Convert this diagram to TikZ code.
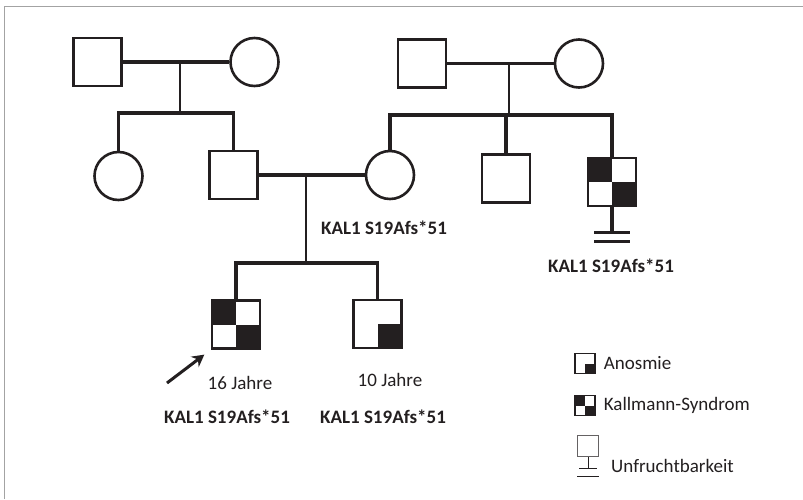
\documentclass[tikz,border=0pt]{standalone}
\usepackage{fontspec}
\setmainfont{Carlito}
\usepackage{tikz}
\usetikzlibrary{arrows.meta, positioning}
\definecolor{pedblack}{HTML}{231F20}
\definecolor{framegray}{HTML}{A3A3A3}

\begin{document}
\begin{tikzpicture}[
    x=1pt, y=-1pt,
    every node/.style={font=\fontsize{19}{22}\selectfont, text=pedblack},
    male/.style={rectangle, draw=pedblack, fill=white, line width=2.6pt, minimum size=48pt, inner sep=0pt},
    female/.style={circle, draw=pedblack, fill=white, line width=2.6pt, minimum size=48pt, inner sep=0pt},
    kallmann/.style={path picture={
        \fill[pedblack] (path picture bounding box.north west) rectangle (path picture bounding box.center);
        \fill[pedblack] (path picture bounding box.center) rectangle (path picture bounding box.south east);}},
    anosmia/.style={path picture={
        \fill[pedblack] (path picture bounding box.center) rectangle (path picture bounding box.south east);}},
    legsym/.style={rectangle, draw=pedblack, fill=white, line width=1.3pt, minimum size=20pt, inner sep=0pt},
    couple/.style={draw=pedblack, line width=3.2pt},
    descent/.style={draw=pedblack, line width=1.5pt},
    gene/.style={font=\fontsize{19}{22}\selectfont\bfseries},
    legtext/.style={anchor=west, inner sep=0pt},
    proband/.style={-{Stealth[length=12pt, width=13pt, inset=4pt]}, line width=3pt, draw=pedblack}
]
\useasboundingbox (0,0) rectangle (803,499);
\fill[white] (0,0) rectangle (803,499);
\draw[framegray, line width=1.2pt] (4.5,499) |- (803,6.5);

% Nodes
\node[male] (gpA) at (97.5,62) {};
\node[female] (gmA) at (254.5,62) {};
\node[male] (gpB) at (422,63.5) {};
\node[female] (gmB) at (579,63.5) {};

\node[female] (aunt) at (118.5,176) {};
\node[male] (father) at (233.5,175) {};
\node[female] (mother) at (390,175) {};
\node[male] (uncle) at (506,178.5) {};
\node[male, kallmann] (uncleKS) at (612,182) {};

\node[male, kallmann] (son1) at (236,324.5) {};
\node[male, anosmia] (son2) at (377.5,324) {};

\coordinate (sibA) at (180,113);
\coordinate (sibB) at (509,115);
\coordinate (sibC) at (306,263);
\coordinate (probtail) at (167,383);

% Lines
\draw[couple] (gpA) -- (gmA);
\draw[couple] (gpB) -- (gmB);
\draw[couple] (father) -- (mother);
\draw[descent] (sibA |- gpA) -- (sibA);
\draw[descent] (sibB |- gpB) -- (sibB);
\draw[descent] (sibC |- father) -- (sibC);
\draw[couple] (aunt.north) |- (sibA) -| (father.north);
\draw[couple] (mother.north) |- (sibB) -| (uncleKS.north);
\draw[couple] (uncle.north) -- (uncle.north |- sibB);
\draw[couple] (son1.north) |- (sibC) -| (son2.north);

% Infertility
\draw[couple] (uncleKS.south) -- ++(0,25);
\draw[couple] (uncleKS.south) ++(-18,25) -- ++(36,0);
\draw[couple] (uncleKS.south) ++(-18,34) -- ++(36,0);

\draw[proband, shorten >=8pt] (probtail) -- (son1.south west);

% Labels
\node[gene] (kalMother) at (384,228) {KAL1 S19Afs*51};
\node[gene] (kalUncle) at (611,266) {KAL1 S19Afs*51};
\node (age1) at (240,383) {16 Jahre};
\node (age2) at (390,380) {10 Jahre};
\node[gene] (kalSon1) at (227,417) {KAL1 S19Afs*51};
\node[gene] (kalSon2) at (383,417) {KAL1 S19Afs*51};

% Legend
\node[legsym, anosmia] (legA) at (585,363.5) {};
\node[legsym, kallmann] (legK) at (585,405.5) {};
\node[rectangle, draw=pedblack!70, fill=white, line width=1pt, minimum size=21pt, inner sep=0pt] (legU) at (588,446) {};
\node[legtext, right=8pt of legA] (txtA) {Anosmie};
\node[legtext, right=8pt of legK] (txtK) {Kallmann-Syndrom};
\node[legtext] (txtU) at (611,466) {Unfruchtbarkeit};
\draw[pedblack, line width=1pt] (legU.south) -- ++(0,11);
\draw[pedblack, line width=1pt] (legU.south) ++(-9,11) -- ++(18,0);
\draw[pedblack, line width=1pt] (legU.south) ++(-11,19) -- ++(22,0);

\end{tikzpicture}
\end{document}
